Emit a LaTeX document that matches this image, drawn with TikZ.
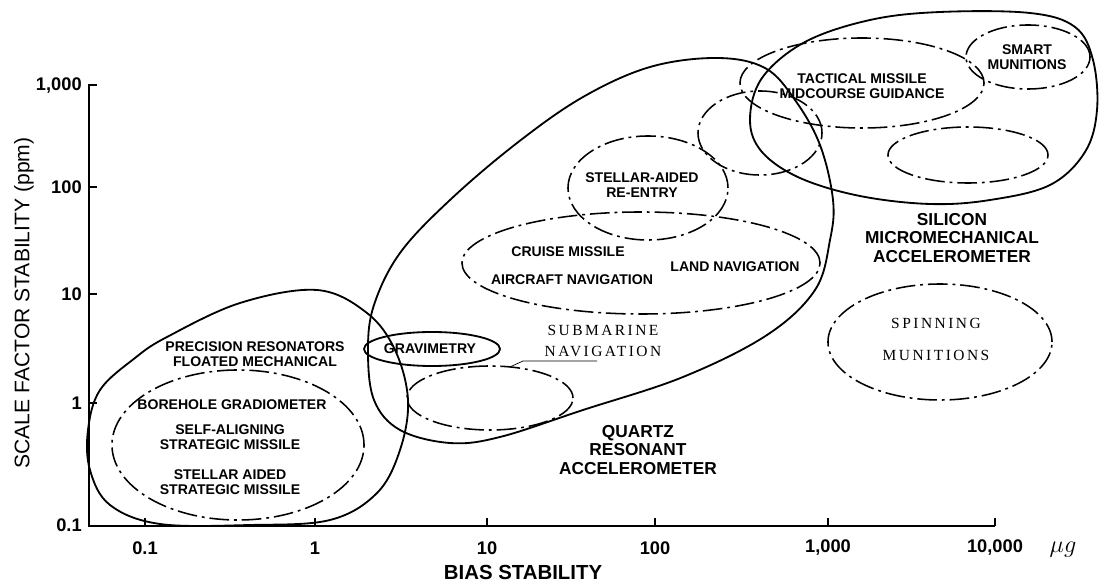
\documentclass[tikz,border=0pt]{standalone}
\usepackage{fontspec}
\setsansfont{Liberation Sans}
\newfontfamily\spacedserif{Liberation Serif}[LetterSpace=16]
\usepackage{tikz}
\usetikzlibrary{positioning,shapes.geometric}
\tikzset{
  outline/.style={draw, line width=1.3pt, line join=round},
  zone/.style={draw, line width=1.1pt, dash pattern=on 14pt off 3.5pt on 2pt off 3.5pt},
  oval/.style={ellipse, zone, inner sep=0pt},
  solidoval/.style={ellipse, outline, inner sep=0pt},
  axis/.style={line width=1.3pt},
  leader/.style={line width=0.5pt},
  tag/.style={font=\sffamily\bfseries\fontsize{10}{10.7}\selectfont, inner sep=0pt, align=center},
  bigtag/.style={font=\sffamily\bfseries\fontsize{12.3}{13}\selectfont, inner sep=0pt, align=center},
  oldtag/.style={font=\spacedserif\fontsize{11}{15.6}\selectfont, inner sep=0pt, align=center},
  ticklbl/.style={font=\sffamily\bfseries\fontsize{13}{15}\selectfont, inner sep=0pt},
}

\begin{document}
\begin{tikzpicture}[x=0.025cm, y=-0.025cm]
\useasboundingbox (0,0) rectangle (1100,583);

%Axes
\draw[axis] (89,84) -- (89,526) -- (995,526);
\draw[axis] (89,85) -- (97,85) (89,187) -- (97,187) (89,294) -- (97,294) (89,403) -- (97,403);
\draw[axis] (145,526) -- (145,518) (315,526) -- (315,518) (487,526) -- (487,518)
            (655,526) -- (655,518) (828,526) -- (828,518) (995,526) -- (995,518);

\node[ticklbl, anchor=east] (y1000) at (82,86) {1,000};
\node[ticklbl, anchor=east] (y100) at (82,187) {100};
\node[ticklbl, anchor=east] (y10) at (82,294) {10};
\node[ticklbl, anchor=east] (y1) at (82,403) {1};
\node[ticklbl, anchor=east] (y01) at (82,525) {0.1};
\node[ticklbl] (x01) at (145,548) {0.1};
\node[ticklbl] (x1) at (315,548) {1};
\node[ticklbl] (x10) at (487,548) {10};
\node[ticklbl] (x100) at (655,548) {100};
\node[ticklbl] (x1000) at (828,548) {1,000};
\node[ticklbl] (x10000) at (995,548) {10,000};
\node[font=\fontsize{19}{21}\selectfont, inner sep=0pt] (unit) at (1063,550) {$\mu g$};
\node[ticklbl, font=\sffamily\bfseries\fontsize{14.5}{16}\selectfont] (xlabel) at (523,572) {BIAS STABILITY};
\node[font=\sffamily\fontsize{15}{17}\selectfont, inner sep=0pt, rotate=90] (ylabel) at (24,303) {SCALE FACTOR STABILITY (ppm)};

%Solid regions
\draw[outline] plot[smooth cycle, tension=0.6] coordinates {(88,430) (100,390) (135,358) (167,337) (240,303) (317,290)
  (367,313) (395,350) (408,400) (400,450) (377,493) (330,520) (250,525) (160,524) (110,505) (90,470)};
\draw[outline] plot[smooth cycle, tension=0.6] coordinates {(368,350) (374,305) (400,253) (450,200) (517,143) (583,97)
  (650,67) (717,58) (765,68) (795,100) (820,145) (833,200) (830,240) (815,290) (767,335) (683,377) (583,410)
  (500,437) (450,443) (400,430) (374,400)};
\draw[outline] plot[smooth cycle, tension=0.6] coordinates {(750,120) (762,78) (805,42) (870,20) (940,12) (1030,13)
  (1075,27) (1093,60) (1097,110) (1085,152) (1050,185) (990,200) (930,204) (860,196) (800,178) (762,152)};
\node[solidoval, minimum width=3.4cm, minimum height=0.85cm] (grav) at (432,349) {};

%Dash-dot regions
\node[oval, minimum width=6.3cm, minimum height=3.75cm] (boreh) at (238,445) {};
\node[oval, minimum width=4.15cm, minimum height=1.6cm] (subm) at (490,398) {};
\node[oval, minimum width=8.95cm, minimum height=2.55cm] (cruise) at (641,263) {};
\node[oval, minimum width=4cm, minimum height=2.6cm] (reentry) at (648,188) {};
\node[oval, minimum width=3.1cm, minimum height=2.1cm] (overlap) at (760,133) {};
\node[oval, minimum width=6.1cm, minimum height=2.25cm] (tactical) at (862,83) {};
\node[oval, minimum width=3.1cm, minimum height=1.6cm] (smart) at (1028,57) {};
\node[oval, minimum width=4cm, minimum height=1.4cm] (silinner) at (968,155) {};
\node[oval, minimum width=5.6cm, minimum height=2.9cm] (spin) at (940,342) {};

%Labels
\node[tag] (precision) at (255,354) {PRECISION RESONATORS\\FLOATED MECHANICAL};
\node[tag] (borehole) at (232,405) {BOREHOLE GRADIOMETER};
\node[tag] (selfalign) at (230,437) {SELF-ALIGNING\\STRATEGIC MISSILE};
\node[tag] (stellarsm) at (230,482) {STELLAR AIDED\\STRATEGIC MISSILE};
\node[tag] (gravlbl) at (430,349) {GRAVIMETRY};
\node[tag] (cruiselbl) at (568,252) {CRUISE MISSILE};
\node[tag] (aircraft) at (572,280) {AIRCRAFT NAVIGATION};
\node[tag] (landnav) at (735,267) {LAND NAVIGATION};
\node[tag] (reentrylbl) at (642,185) {STELLAR-AIDED\\RE-ENTRY};
\node[tag] (tacticallbl) at (862,86) {TACTICAL MISSILE\\MIDCOURSE GUIDANCE};
\node[tag] (smartlbl) at (1027,57) {SMART\\MUNITIONS};
\node[bigtag] (quartzlbl) at (638,450) {QUARTZ\\RESONANT\\ACCELEROMETER};
\node[bigtag] (siliconlbl) at (952,238) {SILICON\\MICROMECHANICAL\\ACCELEROMETER};
\node[oldtag] (subtext) at (603,341) {SUBMARINE\\NAVIGATION};
\node[oldtag, font=\spacedserif\fontsize{11}{22.8}\selectfont] (spinlbl) at (936,339) {SPINNING\\MUNITIONS};

%Leader
\coordinate (leadstart) at (597,361);
\coordinate (bend) at (523,361);
\draw[leader] (leadstart) -- (bend) -- (subm.56);
\end{tikzpicture}
\end{document}
